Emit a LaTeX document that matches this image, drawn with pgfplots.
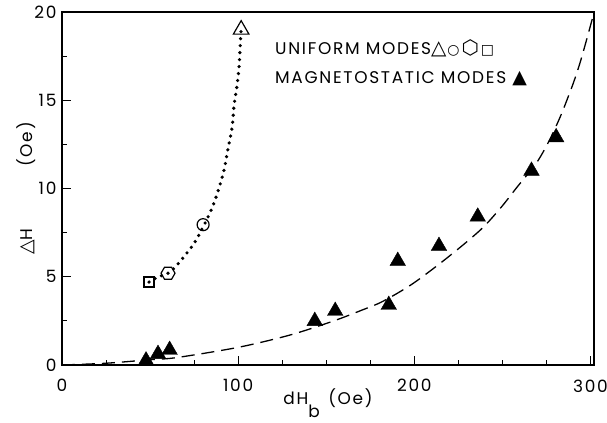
\documentclass[border=0pt]{standalone}
\usepackage{fontspec}
\setmainfont{Poppins}[LetterSpace=10]
\newfontfamily\symfont{DejaVu Sans}
\usepackage{pgfplots}
\pgfplotsset{compat=1.18}
\usetikzlibrary{plotmarks}

\pgfdeclareplotmark{hexagon}{%
  \pgfpathmoveto{\pgfpointpolar{0}{\pgfplotmarksize}}%
  \pgfpathlineto{\pgfpointpolar{60}{\pgfplotmarksize}}%
  \pgfpathlineto{\pgfpointpolar{120}{\pgfplotmarksize}}%
  \pgfpathlineto{\pgfpointpolar{180}{\pgfplotmarksize}}%
  \pgfpathlineto{\pgfpointpolar{240}{\pgfplotmarksize}}%
  \pgfpathlineto{\pgfpointpolar{300}{\pgfplotmarksize}}%
  \pgfpathclose
  \pgfusepathqstroke
}

\begin{document}
\begin{tikzpicture}
\begin{axis}[
  scale only axis, width=532bp, height=353bp,
  xmin=0, xmax=302, ymin=0, ymax=20,
  clip=false,
  axis line style={line width=1.1pt},
  xtick={0,100,200,300}, ytick={0,5,10,15,20},
  minor xtick={25,50,75,125,150,175,225,250,275},
  minor ytick={2.5,7.5,12.5,17.5},
  tick align=inside,
  xtick pos=bottom, ytick pos=left,
  major tick length=9bp, minor tick length=5bp,
  tick style={line width=1pt, black},
  every tick label/.append style={font=\fontsize{17}{17}\selectfont},
  xticklabel style={yshift=-11bp},
  yticklabel style={xshift=-2bp},
  /pgf/number format/assume math mode=true,
]
% dashed fit curve (magnetostatic modes)
\addplot[smooth, line width=1.3pt, dash pattern=on 13bp off 7bp] coordinates {
(0,0.0) (25,0.1) (50,0.3) (65,0.42) (100,1.0) (129.5,1.7) (154,2.49) (170,3.1)
(182,3.6) (199,4.6) (219,6.1) (237.5,7.65) (249,8.9) (258.5,10.1) (269,11.4)
(276,12.6) (283,14.1) (290,15.9) (294,17.1) (298,18.5) (301,19.6)};
% magnetostatic modes
\addplot[only marks, mark=triangle*, mark size=9bp, mark options={fill=black, draw=black}] coordinates {
(47.7,0.25) (54.5,0.62) (61.1,0.85) (143.5,2.49) (155.1,3.06) (185.5,3.40)
(190.6,5.89) (214,6.74) (236,8.4) (266.5,11.0) (280.5,12.9)};
% uniform modes markers
\addplot[only marks, mark=triangle, mark size=9bp, mark options={line width=1.2pt}] coordinates {(101.7,19.0)};
\addplot[only marks, mark=o, mark size=6bp, mark options={line width=1.2pt}] coordinates {(80.1,7.95)};
\addplot[only marks, mark=hexagon, mark size=7bp, mark options={line width=1.2pt}] coordinates {(60.2,5.2)};
\addplot[only marks, mark=square, mark size=5bp, mark options={line width=1.2pt}] coordinates {(49.4,4.7)};
% dotted curve (uniform modes)
\addplot[smooth, line width=3.6bp, line cap=round, dash pattern=on 0pt off 7bp] coordinates {
(49.4,4.70) (54.5,4.99) (60.2,5.2) (64.8,5.61) (74.4,6.80) (80.1,7.82) (85.2,8.90)
(88.6,9.86) (92.0,11.05) (94.3,12.29) (96.6,13.48) (97.7,14.73) (99.4,15.86)
(100.6,17.0) (101.1,18.0) (101.7,19.04)};
% legend text
\node[anchor=west, inner sep=0pt, font=\fontsize{17}{17}\selectfont] at (axis description cs:0.4004,0.8966)
  {UNIFORM MODES{\symfont\fontsize{20}{20}\selectfont △\hspace{1bp}{\fontsize{14}{14}\selectfont○}\hspace{2bp}⬡\hspace{2bp}{\fontsize{14}{14}\selectfont□}}};
\node[anchor=west, inner sep=0pt, font=\fontsize{17}{17}\selectfont] at (axis description cs:0.4004,0.8116)
  {MAGNETOSTATIC MODES {\symfont\fontsize{19}{19}\selectfont ▲}};
% axis labels
\node[rotate=90, anchor=center, font=\fontsize{17}{17}\selectfont] at (axis description cs:-0.068,0.5)
  {{\symfont\fontsize{19}{19}\selectfont △}H\hspace{62bp}(Oe)};
\node[anchor=base, font=\fontsize{17}{17}\selectfont] at (axis description cs:0.5,-0.1133)
  {dH\raisebox{-13bp}{b}\hspace{0.5em}(Oe)};
\end{axis}
\pgfresetboundingbox
\path ([shift={(-62bp,-58bp)}]current axis.south west) rectangle ([shift={(13bp,12bp)}]current axis.north east);
\end{tikzpicture}
\end{document}
